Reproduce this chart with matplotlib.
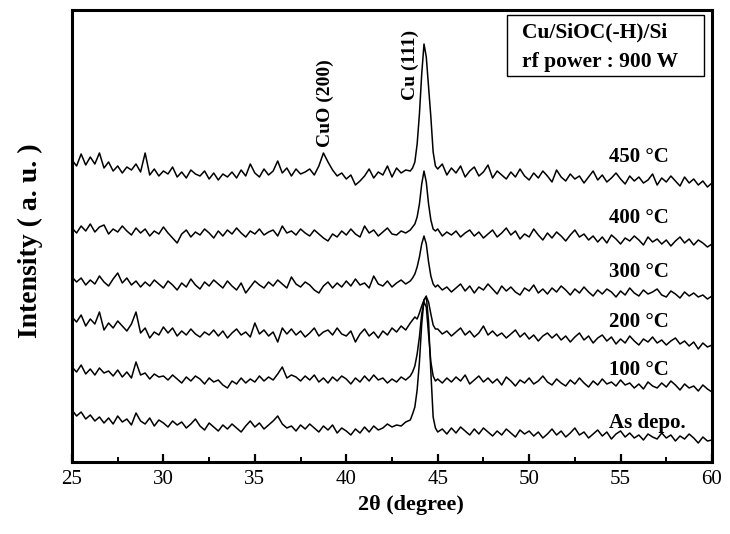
import numpy as np
import matplotlib
matplotlib.use("Agg")
import matplotlib.pyplot as plt
from matplotlib.patches import Rectangle

# ---------------- data (2theta grid and intensities, arbitrary units) ----------------
two_theta = np.concatenate([np.arange(25.0, 43.5, 0.25),
                            np.arange(43.5, 45.0, 0.125),
                            np.arange(45.0, 60.001, 0.25)])

i_450 = [302, 296, 308, 297, 305, 298, 309, 294, 300, 291, 296, 289, 295, 292, 298, 290,
         309, 287, 293, 286, 291, 288, 295, 285, 290, 284, 292, 288, 286, 291, 283, 289,
         282, 288, 285, 290, 284, 292, 286, 298, 289, 285, 293, 287, 291, 301, 289, 294,
         286, 293, 288, 290, 293, 287, 296, 309, 300, 292, 286, 289, 283, 287, 277, 281,
         286, 293, 284, 290, 287, 296, 285, 294, 289, 292,
         291, 294, 300, 318, 348, 388, 418, 405, 375, 345, 310, 296,
         293, 298, 287, 294, 289, 296, 285, 291, 295, 286, 290, 297, 284, 291, 287, 283,
         290, 285, 293, 286, 282, 289, 284, 291, 286, 280, 292, 285, 281, 288, 283, 286,
         279, 285, 291, 282, 287, 280, 284, 289, 283, 278, 286, 281, 285, 279, 282, 288,
         277, 284, 280, 286, 281, 276, 285, 279, 283, 277, 281, 275, 279]

i_400 = [234, 229, 236, 231, 238, 230, 235, 237, 228, 233, 230, 236, 231, 227, 234, 229,
         233, 226, 231, 228, 235, 229, 224, 219, 228, 232, 225, 230, 227, 233, 229, 224,
         231, 226, 232, 228, 234, 229, 225, 231, 228, 233, 227, 230, 232, 226, 236, 229,
         231, 227, 233, 229, 226, 232, 228, 224, 221, 228, 225, 231, 227, 233, 228, 225,
         236, 229, 232, 226, 230, 234, 228, 227, 231, 229,
         232, 235, 238, 245, 258, 278, 291, 280, 258, 242, 233, 231,
         233, 226, 230, 227, 231, 225, 229, 232, 226, 230, 224, 228, 232, 225, 229, 234,
         227, 231, 223, 228, 225, 233, 227, 222, 229, 224, 230, 226, 221, 227, 232, 225,
         228, 222, 226, 220, 225, 219, 227, 223, 218, 224, 221, 226, 222, 217, 225, 220,
         223, 218, 222, 216, 221, 225, 219, 223, 217, 222, 219, 215, 218]

i_300 = [185, 180, 184, 177, 182, 178, 186, 180, 176, 183, 189, 179, 184, 177, 181, 175,
         180, 176, 182, 178, 174, 181, 177, 172, 179, 175, 183, 177, 173, 180, 176, 182,
         178, 174, 181, 176, 172, 179, 169, 175, 181, 177, 174, 180, 176, 182, 178, 174,
         185, 178, 175, 180, 177, 172, 169, 176, 180, 174, 179, 175, 181, 176, 183, 177,
         179, 174, 186, 178, 176, 181, 175, 179, 182, 178,
         181, 184, 188, 195, 205, 218, 226, 218, 200, 186, 178, 175,
         177, 172, 175, 170, 174, 178, 171, 176, 169, 175, 172, 178, 173, 168, 176, 171,
         175, 170, 167, 174, 171, 177, 169, 173, 168, 174, 170, 176, 172, 167, 173, 169,
         175, 170, 166, 172, 168, 173, 170, 165, 171, 167, 174, 169, 166, 172, 168, 170,
         173, 167, 165, 171, 168, 164, 170, 166, 169, 165, 167, 163, 166]

i_200 = [145, 140, 147, 136, 143, 138, 150, 132, 139, 134, 141, 136, 131, 138, 150, 129,
         134, 124, 130, 127, 135, 129, 134, 126, 131, 127, 133, 128, 125, 130, 127, 132,
         126, 131, 124, 129, 133, 127, 130, 125, 139, 128, 132, 126, 130, 120, 134, 128,
         133, 127, 131, 125, 129, 134, 126, 130, 132, 127, 134, 128, 126, 131, 120, 128,
         133, 126, 130, 124, 131, 127, 134, 130, 136, 132,
         139, 142, 145, 143, 149, 156, 162, 165, 160, 148, 137, 133,
         133, 128, 131, 126, 130, 134, 127, 131, 125, 129, 136, 127, 131, 126, 129, 124,
         128, 132, 125, 129, 123, 127, 121, 126, 129, 124, 128, 122, 126, 120, 125, 129,
         122, 126, 119, 124, 127, 121, 125, 118, 123, 119, 126, 121, 117, 123, 120, 125,
         119, 122, 117, 121, 124, 118, 121, 116, 120, 113, 119, 115, 117]

i_100 = [95, 90, 97, 88, 93, 87, 94, 89, 91, 86, 92, 85, 90, 84, 100, 87,
         89, 83, 88, 85, 86, 82, 87, 83, 79, 85, 81, 86, 83, 78, 84, 80,
         82, 77, 74, 81, 78, 84, 79, 83, 80, 86, 81, 85, 82, 88, 95, 84,
         87, 85, 81, 86, 82, 87, 80, 84, 79, 85, 81, 86, 83, 78, 84, 80,
         86, 81, 87, 82, 84, 79, 83, 80, 85, 82,
         86, 90, 96, 108, 125, 148, 160, 155, 128, 100, 86, 81,
         83, 79, 84, 80, 85, 81, 87, 78, 82, 86, 80, 84, 79, 83, 77, 85,
         81, 76, 82, 79, 84, 78, 81, 86, 80, 77, 83, 79, 76, 82, 78, 84,
         79, 75, 81, 77, 83, 78, 80, 76, 82, 77, 79, 74, 78, 73, 80, 76,
         74, 79, 75, 81, 77, 72, 78, 74, 76, 71, 77, 73, 70]

i_asdepo = [52, 46, 50, 43, 47, 41, 45, 39, 44, 38, 46, 40, 43, 37, 49, 41,
            38, 44, 36, 42, 39, 35, 41, 37, 40, 34, 38, 43, 36, 32, 39, 35,
            31, 37, 33, 38, 34, 30, 36, 41, 35, 39, 33, 37, 41, 46, 38, 34,
            36, 31, 37, 33, 38, 34, 30, 36, 32, 37, 29, 34, 31, 27, 33, 29,
            35, 30, 36, 32, 34, 38, 35, 37, 36, 40,
            42, 48, 55, 72, 100, 138, 162, 166, 140, 90, 45, 34,
            30, 33, 28, 34, 29, 35, 31, 27, 33, 28, 34, 30, 26, 31, 27, 33,
            29, 25, 32, 28, 31, 26, 30, 24, 28, 33, 27, 31, 25, 29, 34, 27,
            30, 24, 28, 32, 26, 30, 23, 28, 31, 25, 29, 24, 27, 22, 28, 25,
            23, 29, 24, 27, 21, 26, 23, 28, 24, 19, 25, 21, 22]

series = [i_asdepo, i_100, i_200, i_300, i_400, i_450]
series_labels = ["As depo.", "100 °C", "200 °C", "300 °C", "400 °C", "450 °C"]
label_levels = [39, 92, 140, 190, 244, 305]

x_ticks = [25, 30, 35, 40, 45, 50, 55, 60]

# ---------------- figure ----------------
plt.rcParams['font.family'] = ['Liberation Serif', 'DejaVu Serif']

fig = plt.figure(figsize=(7.30, 5.34), dpi=100)
ax = fig.add_axes([72/730, 72/534, 640/730, 452/534])

for ys in series:
    assert len(ys) == len(two_theta), (len(ys), len(two_theta))
    ax.plot(two_theta, ys, color='black', lw=1.1)

ax.set_xlim(25, 60)
ax.set_ylim(0, 452)
ax.set_xticks(x_ticks)
ax.set_xticks(np.arange(27.5, 60, 5), minor=True)
ax.set_yticks([])
ax.tick_params(axis='x', which='major', direction='in', length=6, width=1.6,
               labelsize=15, pad=6, top=False)
ax.tick_params(axis='x', which='minor', direction='in', length=3.5, width=1.4, top=False)
for s in ax.spines.values():
    s.set_linewidth(2.2)

ax.set_xlabel("2θ (degree)", fontsize=16, fontweight='bold')
ax.xaxis.set_label_coords(0.53, -0.072)
ax.set_ylabel("Intensity ( a. u. )", fontsize=20, fontweight='bold')
ax.yaxis.set_label_coords(-0.045, 0.49)

for lab, lev in zip(series_labels, label_levels):
    ax.text(54.35, lev, lab, fontsize=15, fontweight='bold', ha='left', va='center')

ax.text(38.84, 315, "CuO (200)", rotation=90, fontsize=14, fontweight='bold',
        ha='center', va='bottom')
ax.text(43.48, 362, "Cu (111)", rotation=90, fontsize=14, fontweight='bold',
        ha='center', va='bottom')

ax.add_patch(Rectangle((0.680, 0.854), 0.308, 0.135, transform=ax.transAxes,
                       fill=False, edgecolor='black', lw=1.0))
ax.text(0.703, 0.950, "Cu/SiOC(-H)/Si", transform=ax.transAxes, fontsize=15.5,
        fontweight='bold', ha='left', va='center')
ax.text(0.703, 0.886, "rf power : 900 W", transform=ax.transAxes, fontsize=15.5,
        fontweight='bold', ha='left', va='center')

fig.savefig("out.png", dpi=100)
